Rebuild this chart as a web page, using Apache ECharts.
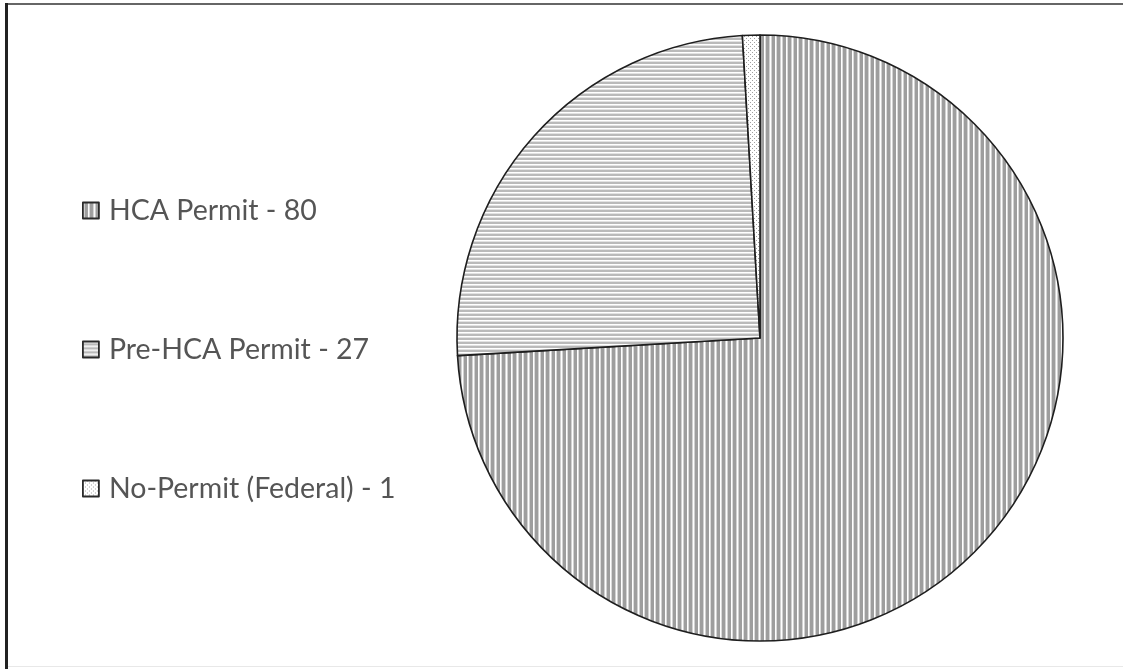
<!DOCTYPE html>
<html lang="en">
<head>
    <meta charset="UTF-8">
    <title>Permits</title>
    <script src="https://cdn.jsdelivr.net/npm/echarts@6/dist/echarts.min.js"></script>
    <style>
        html, body { margin: 0; padding: 0; background: #fff; }
        #chart { width: 1123px; height: 669px; }
    </style>
</head>
<body>
<div id="chart"></div>
<script>
    // 数据
    var names = ['HCA Permit', 'Pre-HCA Permit', 'No-Permit (Federal)'];
    var values = [80, 27, 1];

    // 花纹填充：竖条、横条、点
    function makePattern(w, h, draw) {
        var c = document.createElement('canvas');
        c.width = w;
        c.height = h;
        var ctx = c.getContext('2d');
        ctx.fillStyle = '#fff';
        ctx.fillRect(0, 0, w, h);
        draw(ctx);
        return { image: c, repeat: 'repeat' };
    }
    var vStripe = makePattern(11, 4, function (ctx) {
        ctx.fillStyle = '#d2d2d2'; ctx.fillRect(1, 0, 1, 4);
        ctx.fillStyle = '#9e9e9e'; ctx.fillRect(2, 0, 3, 4);
        ctx.fillStyle = '#dadada'; ctx.fillRect(6, 0, 1, 4);
        ctx.fillStyle = '#9e9e9e'; ctx.fillRect(7, 0, 3, 4);
        ctx.fillStyle = '#d2d2d2'; ctx.fillRect(10, 0, 1, 4);
    });
    var hStripe = makePattern(4, 4, function (ctx) {
        ctx.fillStyle = '#e2e2e2'; ctx.fillRect(0, 1, 4, 1);
        ctx.fillStyle = '#bababa'; ctx.fillRect(0, 2, 4, 2);
    });
    var dots = makePattern(4, 4, function (ctx) {
        ctx.fillStyle = '#a0a0a0';
        ctx.fillRect(0, 0, 1, 1);
        ctx.fillRect(2, 2, 1, 1);
    });
    var fills = [vStripe, hStripe, dots];

    var pieData = [];
    for (var i = 0; i < names.length; i++) {
        pieData[i] = {
            value: values[i],
            name: names[i],
            itemStyle: { color: fills[i] }
        };
    }

    var chart = echarts.init(document.getElementById('chart'));
    var option = {
        animation: false,
        backgroundColor: '#fff',
        legend: {
            orient: 'vertical',
            left: 77,
            top: 190,
            itemWidth: 16,
            itemHeight: 16,
            itemGap: 108,
            icon: 'rect',
            selectedMode: false,
            itemStyle: { borderColor: '#2a2a2a', borderWidth: 1.8 },
            formatter: function (name) {
                return name + ' - ' + values[names.indexOf(name)];
            },
            textStyle: {
                fontFamily: 'Lato',
                fontSize: 28.5,
                lineHeight: 31,
                color: '#555',
                padding: [0, 0, 0, 5]
            },
            data: names
        },
        graphic: [
            { type: 'rect', shape: { x: 5, y: 3, width: 1118, height: 2 }, style: { fill: '#666' }, silent: true },
            { type: 'rect', shape: { x: 5, y: 3, width: 3, height: 666 }, style: { fill: '#222' }, silent: true },
            { type: 'rect', shape: { x: 8, y: 666, width: 1115, height: 1 }, style: { fill: '#e8e8e8' }, silent: true }
        ],
        series: [
            {
                type: 'pie',
                center: [760, 338],
                radius: 303,
                startAngle: 90,
                clockwise: true,
                silent: true,
                label: { show: false },
                labelLine: { show: false },
                itemStyle: { borderColor: '#1e1e1e', borderWidth: 1.6 },
                data: pieData
            }
        ]
    };
    chart.setOption(option);
</script>
</body>
</html>
